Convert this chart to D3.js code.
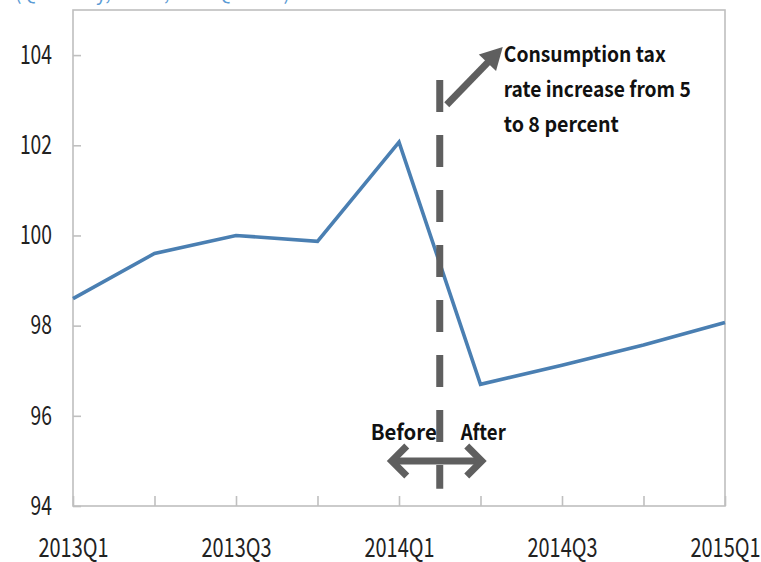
<!DOCTYPE html>
<html>
<head>
<meta charset="utf-8">
<script src="https://cdn.jsdelivr.net/npm/d3@7"></script>
<style>
  html, body { margin: 0; padding: 0; background: #fff; }
  svg { display: block; }
  text { font-family: "Noto Sans CJK KR", "Noto Sans", sans-serif; }
</style>
</head>
<body>
<svg id="chart" width="761" height="562"></svg>
<script>
// Quarterly index series
const quarters = ["2013Q1", "2013Q2", "2013Q3", "2013Q4", "2014Q1", "2014Q2", "2014Q3", "2014Q4", "2015Q1"];
const values = [98.6, 99.6, 100.0, 99.87, 102.07, 96.7, 97.12, 97.57, 98.07];
const xTickLabels = ["2013Q1", "2013Q3", "2014Q1", "2014Q3", "2015Q1"];
const yTicks = [94, 96, 98, 100, 102, 104];
const yDomain = [94, 105];

// Annotation text
const noteLines = ["Consumption tax", "rate increase from 5", "to 8 percent"];
const noteWidths = [162, 187, 115];
const beforeLabel = "Before";
const afterLabel = "After";
const headerText = "(Quarterly, Index, 2013Q1=100)";

const svg = d3.select("#chart");
const plotLeft = 73, plotRight = 725, plotTop = 10, plotBottom = 506;
const grey = "#bfbfbf";
const annoGrey = "#5f5f5f";
const lineBlue = "#4a7fb2";

const x = d3.scalePoint().domain(quarters).range([plotLeft, plotRight]);
const y = d3.scaleLinear().domain(yDomain).range([plotBottom, plotTop]);

// clipped header line above the plot
svg.append("text")
  .attr("x", 15).attr("y", 0)
  .attr("font-size", 19)
  .attr("fill", "#5b9bd5")
  .attr("textLength", 275)
  .attr("lengthAdjust", "spacingAndGlyphs")
  .text(headerText);

// plot frame
svg.append("rect")
  .attr("x", plotLeft).attr("y", plotTop)
  .attr("width", plotRight - plotLeft).attr("height", plotBottom - plotTop)
  .attr("fill", "none").attr("stroke", grey).attr("stroke-width", 1.6);

// y axis (ticks pointing inward)
const yAxis = svg.append("g")
  .attr("transform", `translate(${plotLeft},0)`)
  .call(d3.axisLeft(y).tickValues(yTicks).tickSize(-8).tickPadding(21).tickFormat(d3.format("d")));
yAxis.select(".domain").remove();
yAxis.selectAll("line").attr("stroke", grey).attr("stroke-width", 1.6);
yAxis.selectAll("text")
  .attr("font-size", 26).attr("fill", "#222")
  .attr("textLength", function () { return this.textContent.length * 10.7; })
  .attr("lengthAdjust", "spacingAndGlyphs");

// x axis (ticks pointing up, labels every other quarter)
const xAxis = svg.append("g")
  .attr("transform", `translate(0,${plotBottom})`)
  .call(d3.axisBottom(x).tickSize(-10)
    .tickFormat(d => xTickLabels.includes(d) ? d : ""));
xAxis.select(".domain").remove();
xAxis.selectAll("line").attr("stroke", grey).attr("stroke-width", 1.6);
xAxis.selectAll("text")
  .attr("y", 51).attr("dy", 0)
  .attr("font-size", 26).attr("fill", "#222")
  .filter(function () { return this.textContent.length > 0; })
  .attr("textLength", 70)
  .attr("lengthAdjust", "spacingAndGlyphs");

// the series line
svg.append("path")
  .datum(values)
  .attr("fill", "none")
  .attr("stroke", lineBlue)
  .attr("stroke-width", 3.6)
  .attr("stroke-linejoin", "miter")
  .attr("d", d3.line().x((d, i) => x(quarters[i])).y(d => y(d)));

// dashed divider between 2014Q1 and 2014Q2
const xDiv = (x("2014Q1") + x("2014Q2")) / 2;
svg.append("line")
  .attr("x1", xDiv).attr("x2", xDiv)
  .attr("y1", y(103.45)).attr("y2", y(94.38))
  .attr("stroke", annoGrey).attr("stroke-width", 7)
  .attr("stroke-dasharray", "32 23");

// diagonal arrow toward the note
const ax0 = xDiv + 7, ay0 = y(102.9);
const ax1 = xDiv + 63, ay1 = y(104.18);
const dx = ax1 - ax0, dy = ay1 - ay0, len = Math.hypot(dx, dy);
const ux = dx / len, uy = dy / len;
const headLen = 22, headHalf = 12;
svg.append("line")
  .attr("x1", ax0).attr("y1", ay0)
  .attr("x2", ax1 - ux * (headLen - 2)).attr("y2", ay1 - uy * (headLen - 2))
  .attr("stroke", annoGrey).attr("stroke-width", 7);
const bx = ax1 - ux * headLen, by = ay1 - uy * headLen;
svg.append("path")
  .attr("d", `M${ax1},${ay1}L${bx - uy * headHalf},${by + ux * headHalf}L${bx + uy * headHalf},${by - ux * headHalf}Z`)
  .attr("fill", annoGrey);

// note text
const noteX = xDiv + 64;
const noteBase = [62, 97, 132];
noteLines.forEach((t, i) => {
  svg.append("text")
    .attr("x", noteX).attr("y", noteBase[i])
    .attr("font-size", 21).attr("font-weight", "bold").attr("fill", "#111")
    .attr("textLength", noteWidths[i]).attr("lengthAdjust", "spacingAndGlyphs")
    .text(t);
});

// before / after double arrow
const hy = y(95.0);
const hx0 = xDiv - 51, hx1 = xDiv + 45;
svg.append("line")
  .attr("x1", hx0 + 4).attr("x2", hx1 - 4).attr("y1", hy).attr("y2", hy)
  .attr("stroke", annoGrey).attr("stroke-width", 7);
svg.append("path")
  .attr("d", `M${hx0 + 18},${hy - 15}L${hx0 + 3},${hy}L${hx0 + 18},${hy + 15}`)
  .attr("fill", "none").attr("stroke", annoGrey).attr("stroke-width", 7)
  .attr("stroke-linejoin", "miter");
svg.append("path")
  .attr("d", `M${hx1 - 18},${hy - 15}L${hx1 - 3},${hy}L${hx1 - 18},${hy + 15}`)
  .attr("fill", "none").attr("stroke", annoGrey).attr("stroke-width", 7)
  .attr("stroke-linejoin", "miter");

svg.append("text")
  .attr("x", xDiv - 69).attr("y", 440)
  .attr("font-size", 21).attr("font-weight", "bold").attr("fill", "#111")
  .attr("textLength", 66).attr("lengthAdjust", "spacingAndGlyphs")
  .text(beforeLabel);
svg.append("text")
  .attr("x", xDiv + 21).attr("y", 440)
  .attr("font-size", 21).attr("font-weight", "bold").attr("fill", "#111")
  .attr("textLength", 45).attr("lengthAdjust", "spacingAndGlyphs")
  .text(afterLabel);
</script>
</body>
</html>
